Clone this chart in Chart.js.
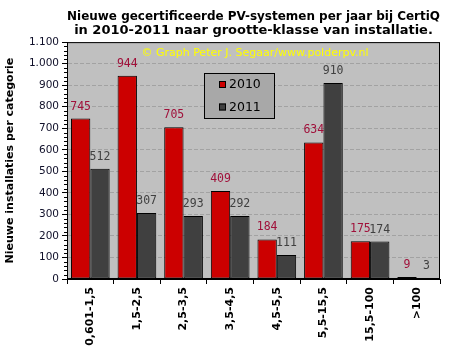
<!DOCTYPE html>
<html><head><meta charset="utf-8">
<script src="https://cdn.jsdelivr.net/npm/chart.js@4"></script>
<style>html,body{margin:0;padding:0;background:#fff}#wrap{width:451px;height:351px}</style>
</head><body><div id="wrap"><canvas id="c" width="451" height="351"></canvas></div>
<script>
const categories = ['0,601-1,5','1,5-2,5','2,5-3,5','3,5-4,5','4,5-5,5','5,5-15,5','15,5-100','>100'];
const series2010 = [745,944,705,409,184,634,175,9];
const series2011 = [512,307,293,292,111,910,174,3];
const seriesNames = ['2010','2011'];
const titleLines = ['Nieuwe gecertificeerde PV-systemen per jaar bij CertiQ','in 2010-2011 naar grootte-klasse van installatie.'];
const yAxisTitle = 'Nieuwe installaties per categorie';
const watermark = '\u00A9 Graph Peter J. Segaar/www.polderpv.nl';
const yMin = 0, yMax = 1100, yMajor = 100, yMinor = 20;

const barColors = ['#CC0000','#404040'];
const labelColors = ['#A0103A','#404040'];

function fmt(v){
  if (v >= 1000) return Math.floor(v/1000) + '.' + String(v%1000).padStart(3,'0');
  return String(v);
}

const extras = {
  id:'extras',
  beforeDraw(chart){
    const {ctx, chartArea:a} = chart;
    ctx.save();
    ctx.fillStyle = '#C0C0C0';
    ctx.fillRect(a.left, a.top, a.right-a.left, a.bottom-a.top);
    ctx.restore();
  },
  afterDatasetsDraw(chart){
    const {ctx, chartArea:a} = chart;
    const ys = chart.scales.y;
    ctx.save();
    // minor ticks
    ctx.strokeStyle = '#000'; ctx.lineWidth = 1;
    ctx.beginPath();
    for (let v = yMin; v <= yMax; v += yMinor) {
      if (v % yMajor === 0) continue;
      const py = Math.round(ys.getPixelForValue(v)) + 0.5;
      ctx.moveTo(a.left - 3, py); ctx.lineTo(a.left, py);
    }
    ctx.stroke();
    // border
    ctx.strokeRect(a.left+0.5, a.top+0.5, a.right-a.left-1, a.bottom-a.top-1);
    // data labels
    ctx.font = '11.5px "DejaVu Sans Mono"';
    ctx.textAlign = 'center'; ctx.textBaseline = 'middle';
    chart.data.datasets.forEach((ds, di) => {
      const meta = chart.getDatasetMeta(di);
      ctx.fillStyle = labelColors[di];
      meta.data.forEach((el, i) => {
        ctx.fillText(String(ds.data[i]), el.x, el.y - 12);
      });
    });
    // watermark
    ctx.fillStyle = '#FFFF00';
    ctx.font = '11px "DejaVu Sans"';
    ctx.fillText(watermark, 255, 53);
    // legend
    const lx = 204, ly = 73, lw = 71, lh = 46;
    ctx.fillStyle = '#A8A8A8';
    ctx.fillRect(lx, ly, lw, lh);
    ctx.strokeStyle = '#000';
    ctx.strokeRect(lx+0.5, ly+0.5, lw-1, lh-1);
    ctx.font = '12.5px "DejaVu Sans"';
    ctx.textAlign = 'left';
    chart.data.datasets.forEach((ds, di) => {
      const cy = ly + 12 + di*22.5;
      ctx.fillStyle = ds.backgroundColor;
      ctx.fillRect(lx+15, cy-4, 7, 7);
      ctx.strokeRect(lx+15.5, cy-3.5, 6, 6);
      ctx.fillStyle = '#000';
      ctx.fillText(ds.label, lx+25, cy);
    });
    ctx.restore();
  }
};

new Chart(document.getElementById('c'), {
  type:'bar',
  data:{
    labels: categories,
    datasets:[
      {label: seriesNames[0], data: series2010, backgroundColor: barColors[0], borderColor:'#000', borderWidth:1, borderSkipped:false},
      {label: seriesNames[1], data: series2011, backgroundColor: barColors[1], borderColor:'#000', borderWidth:1, borderSkipped:false}
    ]
  },
  options:{
    responsive:false, animation:false, devicePixelRatio:1,
    layout:{padding:{left:4, right:11, top:0, bottom:0}},
    datasets:{bar:{categoryPercentage:0.83, barPercentage:1}},
    plugins:{
      legend:{display:false}, tooltip:{enabled:false},
      title:{display:true, fullSize:false, text:titleLines, color:'#000',
        font:{family:'DejaVu Sans', size:13, weight:'bold', lineHeight:1.12}, padding:{top:9, bottom:4}}
    },
    scales:{
      x:{
        grid:{display:true, drawOnChartArea:false, tickLength:5, color:'#000'},
        border:{display:true, color:'#000'},
        ticks:{color:'#000', font:{family:'DejaVu Sans', size:11, weight:'bold'}, minRotation:90, maxRotation:90, padding:3},
        afterFit(s){ s.height = 72; }
      },
      y:{
        min:yMin, max:yMax,
        grid:{
          color:(c)=> (c.tick && c.tick.value>0 && c.tick.value<yMax) ? '#A2A2A2' : 'rgba(0,0,0,0)',
          tickColor:'#000', tickLength:5, drawTicks:true
        },
        border:{display:true, color:'#000', dash:[4,2]},
        ticks:{stepSize:yMajor, autoSkip:false, color:'#10102A', padding:3,
          font:{family:'DejaVu Sans', size:10.5},
          callback:(v)=> fmt(v)},
        title:{display:true, text:yAxisTitle, color:'#000', font:{family:'DejaVu Sans', size:11, weight:'bold'}, padding:{top:0,bottom:4}},
        afterFit(s){ s.width = 63; }
      }
    }
  },
  plugins:[extras]
});
</script></body></html>
